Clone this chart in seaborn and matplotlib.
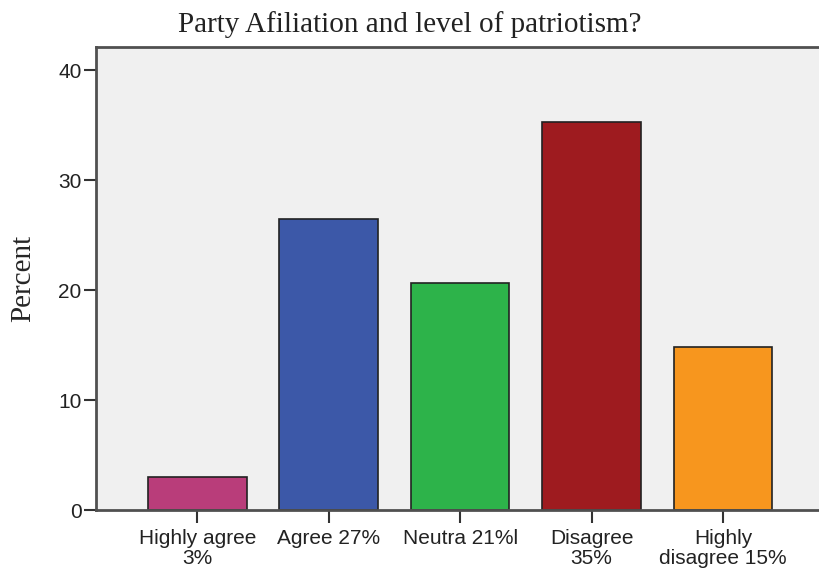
import matplotlib
matplotlib.use('Agg')
import matplotlib.pyplot as plt
import seaborn as sns
import pandas as pd

# Values
categories = ['Highly agree\n3%', 'Agree 27%', 'Neutra 21%l', 'Disagree\n35%', 'Highly\ndisagree 15%']
percent = [3.0, 26.45, 20.6, 35.3, 14.8]
bar_colors = ['#B93D7A', '#3C58A8', '#2DB34A', '#9E1B1F', '#F7961E']

df = pd.DataFrame({'category': categories, 'percent': percent})

sns.set_style('white')
plt.rcParams['font.family'] = ['Liberation Sans', 'DejaVu Sans']

fig = plt.figure(figsize=(8.19, 5.73), dpi=100)
ax = fig.add_axes([0.1172, 0.1099, 0.8828, 0.8081])

sns.barplot(data=df, x='category', y='percent', hue='category', palette=bar_colors,
            legend=False, width=0.75, edgecolor='#222222', linewidth=1.2, saturation=1, ax=ax)

ax.set_facecolor('#F0F0F0')
ax.set_xlim(-0.77, 4.73)
ax.set_ylim(0, 42.1)
ax.set_yticks([0, 10, 20, 30, 40])

for side in ['left', 'top', 'bottom']:
    ax.spines[side].set_color('#505050')
    ax.spines[side].set_linewidth(2)
ax.spines['right'].set_visible(False)

ax.tick_params(axis='both', direction='out', length=9, width=1.5, color='#333333',
               labelsize=15, labelcolor='#222222', left=True, bottom=True)
ax.tick_params(axis='y', pad=1.5)
ax.tick_params(axis='x', pad=4.5)
for lbl in ax.get_xticklabels():
    lbl.set_linespacing(1.1)

ax.set_xlabel('')
ax.set_ylabel('Percent', family=['Liberation Serif', 'DejaVu Serif'], fontsize=21, labelpad=16)

# title is centred on the whole figure, not the axes
fig.text(0.5, 1 - 32 / 573, 'Party Afiliation and level of patriotism?',
         family=['Liberation Serif', 'DejaVu Serif'], fontsize=21, ha='center', va='baseline',
         color='#222222')

fig.savefig('out.png', dpi=100)
